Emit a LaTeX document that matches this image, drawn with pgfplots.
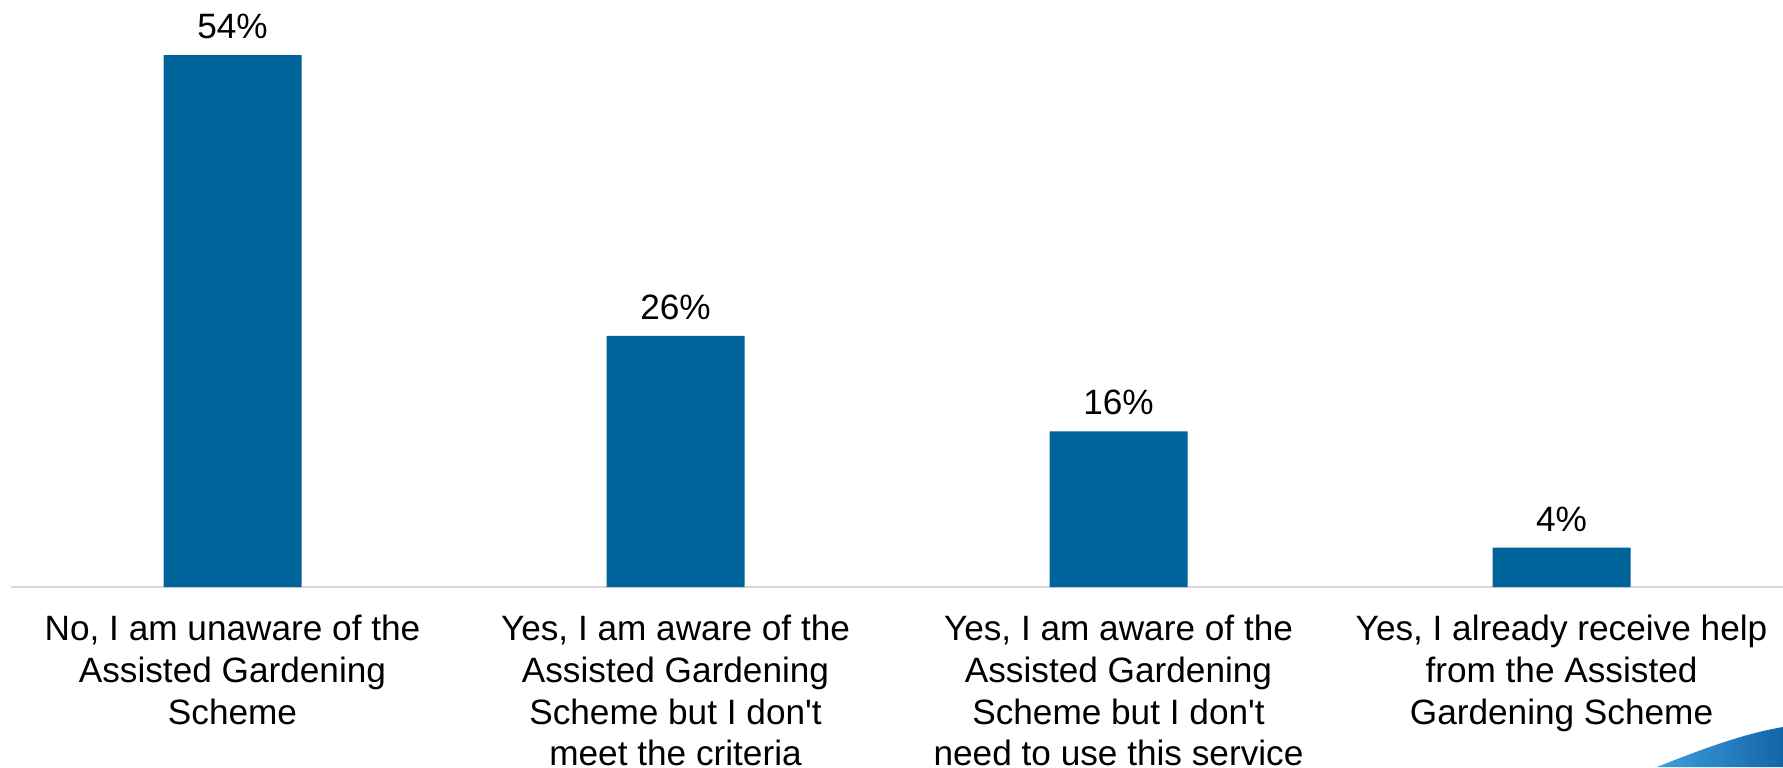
\documentclass[border=0pt]{standalone}
\usepackage{pgfplots}
\pgfplotsset{compat=1.18}
\usepackage{fontspec}
\setmainfont{Liberation Sans}[Ligatures=TeXOff]
\definecolor{barblue}{RGB}{0,99,153}
\definecolor{axisgray}{RGB}{217,217,217}
\definecolor{swooshA}{RGB}{60,160,220}
\definecolor{swooshB}{RGB}{20,100,170}
\begin{document}
\begin{tikzpicture}
\useasboundingbox (-5.5pt,-90pt) rectangle (886pt,293.5pt);
\begin{axis}[
  at={(0,0)}, anchor=south west,
  scale only axis,
  width=886pt, height=293.5pt,
  xmin=-0.5, xmax=3.5,
  ymin=0, ymax=59.6,
  axis x line*=bottom,
  axis y line=none,
  x axis line style={draw=axisgray, line width=0.8pt},
  xtick=data,
  major tick length=0pt,
  xticklabels={
    {No, I am unaware of the\\Assisted Gardening\\Scheme},
    {Yes, I am aware of the\\Assisted Gardening\\Scheme but I don't\\meet the criteria},
    {Yes, I am aware of the\\Assisted Gardening\\Scheme but I don't\\need to use this service},
    {Yes, I already receive help\\from the Assisted\\Gardening Scheme}},
  xticklabel style={align=center, inner sep=0pt, anchor=north, yshift=-14pt,
    font=\fontsize{17.6}{20.8}\selectfont},
  ybar,
  bar width=69pt,
  point meta=explicit symbolic,
  nodes near coords={\pgfplotspointmeta\%},
  nodes near coords style={anchor=south, inner sep=0pt, yshift=8pt,
    font=\fontsize{17.6}{21}\selectfont, text=black},
]
\addplot[fill=barblue, draw=none] coordinates {(0,54) [54] (1,25.5) [26] (2,15.8) [16] (3,4.0) [4]};
\end{axis}
\shade[left color=swooshA, right color=swooshB]
  (823pt,-90pt) .. controls (848pt,-80pt) and (868pt,-73pt) .. (886pt,-70pt)
  -- (886pt,-90pt) -- cycle;
\end{tikzpicture}
\end{document}
